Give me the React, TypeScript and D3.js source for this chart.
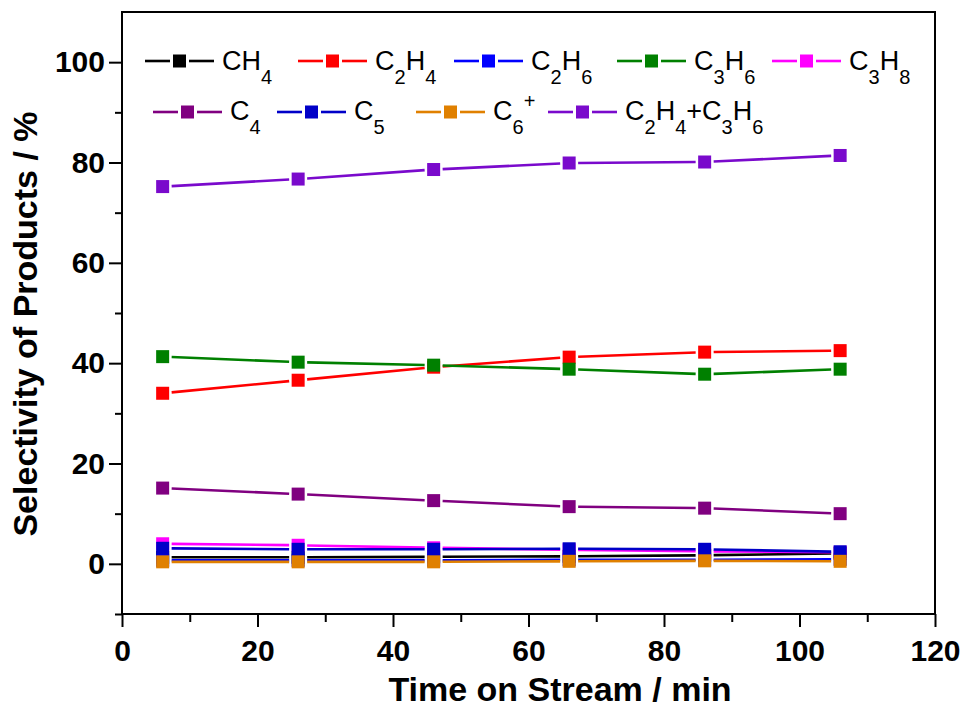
import { useEffect, useRef } from 'react'
import * as d3 from 'd3'

const times = [6, 26, 46, 66, 86, 106]
const ch4 = [1.3, 1.3, 1.4, 1.5, 1.7, 2.1]
const c2h4 = [34.0, 36.6, 39.2, 41.2, 42.2, 42.5]
const c2h6 = [0.7, 0.7, 0.7, 0.8, 0.8, 0.9]
const c3h6 = [41.3, 40.2, 39.6, 38.8, 37.8, 38.8]
const c3h8 = [4.0, 3.7, 3.2, 2.8, 2.5, 2.3]
const c4 = [15.1, 13.9, 12.6, 11.4, 11.1, 10.0]
const c5 = [3.1, 2.9, 2.9, 3.0, 2.9, 2.4]
const c6plus = [0.4, 0.4, 0.4, 0.5, 0.6, 0.5]
const c2h4c3h6 = [75.2, 76.7, 78.6, 79.9, 80.1, 81.4]

// label parts: [text, 'n' normal | 'sub' | 'sup']
type Part = [string, 'n' | 'sub' | 'sup']
const series: { key: string; color: string; values: number[]; label: Part[] }[] = [
  { key: 'CH4', color: '#000000', values: ch4, label: [['CH', 'n'], ['4', 'sub']] },
  { key: 'C2H4', color: '#ff0000', values: c2h4, label: [['C', 'n'], ['2', 'sub'], ['H', 'n'], ['4', 'sub']] },
  { key: 'C2H6', color: '#0000ff', values: c2h6, label: [['C', 'n'], ['2', 'sub'], ['H', 'n'], ['6', 'sub']] },
  { key: 'C3H6', color: '#008000', values: c3h6, label: [['C', 'n'], ['3', 'sub'], ['H', 'n'], ['6', 'sub']] },
  { key: 'C3H8', color: '#ff00ff', values: c3h8, label: [['C', 'n'], ['3', 'sub'], ['H', 'n'], ['8', 'sub']] },
  { key: 'C4', color: '#800080', values: c4, label: [['C', 'n'], ['4', 'sub']] },
  { key: 'C5', color: '#0000c8', values: c5, label: [['C', 'n'], ['5', 'sub']] },
  { key: 'C6+', color: '#e08000', values: c6plus, label: [['C', 'n'], ['6', 'sub'], ['+', 'sup']] },
  { key: 'C2H4+C3H6', color: '#7a0acc', values: c2h4c3h6, label: [['C', 'n'], ['2', 'sub'], ['H', 'n'], ['4', 'sub'], ['+C', 'n'], ['3', 'sub'], ['H', 'n'], ['6', 'sub']] },
]

// legend slot positions (row, start x of line)
const legendSlots = [
  [0, 145], [0, 298], [0, 454], [0, 617], [0, 772],
  [1, 153], [1, 277], [1, 416], [1, 548],
]

export default function App() {
  const svgRef = useRef<SVGSVGElement>(null)
  const width = 968
  const height = 708

  useEffect(() => {
    if (!svgRef.current) return
    const svg = d3.select(svgRef.current)
    svg.selectAll('*').remove()

    const left = 122, right = 935, top = 12, bottom = 614
    const x = d3.scaleLinear().domain([0, 120]).range([left, right])
    const y = d3.scaleLinear().domain([-10, 110]).range([bottom, top])
    const font = "'Liberation Sans', Arial, sans-serif"
    const lw = 2.6

    // frame
    svg.append('rect')
      .attr('x', left).attr('y', top)
      .attr('width', right - left).attr('height', bottom - top)
      .attr('fill', 'none').attr('stroke', '#000').attr('stroke-width', 2)

    // minor ticks
    svg.append('g').attr('transform', `translate(0,${bottom})`)
      .call(d3.axisBottom(x).tickValues(d3.range(10, 120, 20)).tickSize(8).tickFormat(() => ''))
    svg.append('g').attr('transform', `translate(${left},0)`)
      .call(d3.axisLeft(y).tickValues(d3.range(-10, 100, 20)).tickSize(7).tickFormat(() => ''))

    // major ticks
    const xAxis = svg.append('g').attr('transform', `translate(0,${bottom})`)
      .call(d3.axisBottom(x).tickValues(d3.range(0, 121, 20)).tickSize(13).tickPadding(13))
    const yAxis = svg.append('g').attr('transform', `translate(${left},0)`)
      .call(d3.axisLeft(y).tickValues(d3.range(0, 101, 20)).tickSize(13).tickPadding(4))

    svg.selectAll('.domain').remove()
    svg.selectAll('.tick line').attr('stroke', '#000').attr('stroke-width', 2)
    ;[xAxis, yAxis].forEach(a => a.selectAll('text')
      .attr('fill', '#000').attr('font-size', 30).attr('font-weight', 'bold').attr('font-family', font))

    // axis titles
    svg.append('text')
      .attr('x', 560).attr('y', 701)
      .attr('text-anchor', 'middle')
      .attr('font-family', font).attr('font-weight', 'bold').attr('font-size', 34)
      .text('Time on Stream / min')
    svg.append('text')
      .attr('transform', 'translate(37,324) rotate(-90)')
      .attr('text-anchor', 'middle')
      .attr('font-family', font).attr('font-weight', 'bold').attr('font-size', 34)
      .text('Selectivity of Products / %')

    const half = 6.5
    const gap = 2.5

    // series: line segments stop short of each marker, like Origin
    series.forEach(s => {
      const pts = times.map((t, i) => [x(t), y(s.values[i])])
      for (let i = 0; i < pts.length - 1; i++) {
        const [x1, y1] = pts[i]
        const [x2, y2] = pts[i + 1]
        const len = Math.hypot(x2 - x1, y2 - y1)
        const ux = (x2 - x1) / len, uy = (y2 - y1) / len
        const d = Math.min(half / Math.max(Math.abs(ux), 1e-6), half / Math.max(Math.abs(uy), 1e-6)) + gap
        if (len <= 2 * d) continue
        svg.append('line')
          .attr('x1', x1 + ux * d).attr('y1', y1 + uy * d)
          .attr('x2', x2 - ux * d).attr('y2', y2 - uy * d)
          .attr('stroke', s.color).attr('stroke-width', lw)
      }
      svg.append('g').selectAll('rect').data(pts).join('rect')
        .attr('x', d => d[0] - half).attr('y', d => d[1] - half)
        .attr('width', half * 2).attr('height', half * 2)
        .attr('fill', s.color)
    })

    // legend
    const rowLine = [61, 112]
    const rowBase = [70, 120]
    series.forEach((s, i) => {
      const [row, lx] = legendSlots[i]
      const ly = rowLine[row]
      const g = svg.append('g')
      g.append('line').attr('x1', lx).attr('x2', lx + 25).attr('y1', ly).attr('y2', ly)
        .attr('stroke', s.color).attr('stroke-width', lw)
      g.append('line').attr('x1', lx + 44).attr('x2', lx + 69).attr('y1', ly).attr('y2', ly)
        .attr('stroke', s.color).attr('stroke-width', lw)
      g.append('rect').attr('x', lx + 28).attr('y', ly - half).attr('width', half * 2).attr('height', half * 2)
        .attr('fill', s.color)
      const t = g.append('text').attr('x', lx + 77).attr('y', rowBase[row])
        .attr('font-family', font).attr('font-size', 27).attr('fill', '#000')
      let level = 0
      s.label.forEach(([txt, kind]) => {
        const target = kind === 'sub' ? 14 : kind === 'sup' ? -12 : 0
        t.append('tspan')
          .attr('dy', target - level)
          .attr('font-size', kind === 'n' ? 27 : 20)
          .text(txt)
        level = target
      })
    })
  }, [])

  return (
    <svg
      ref={svgRef}
      width={width}
      height={height}
      style={{ position: 'absolute', left: 0, top: 0, background: '#fff' }}
    />
  )
}
